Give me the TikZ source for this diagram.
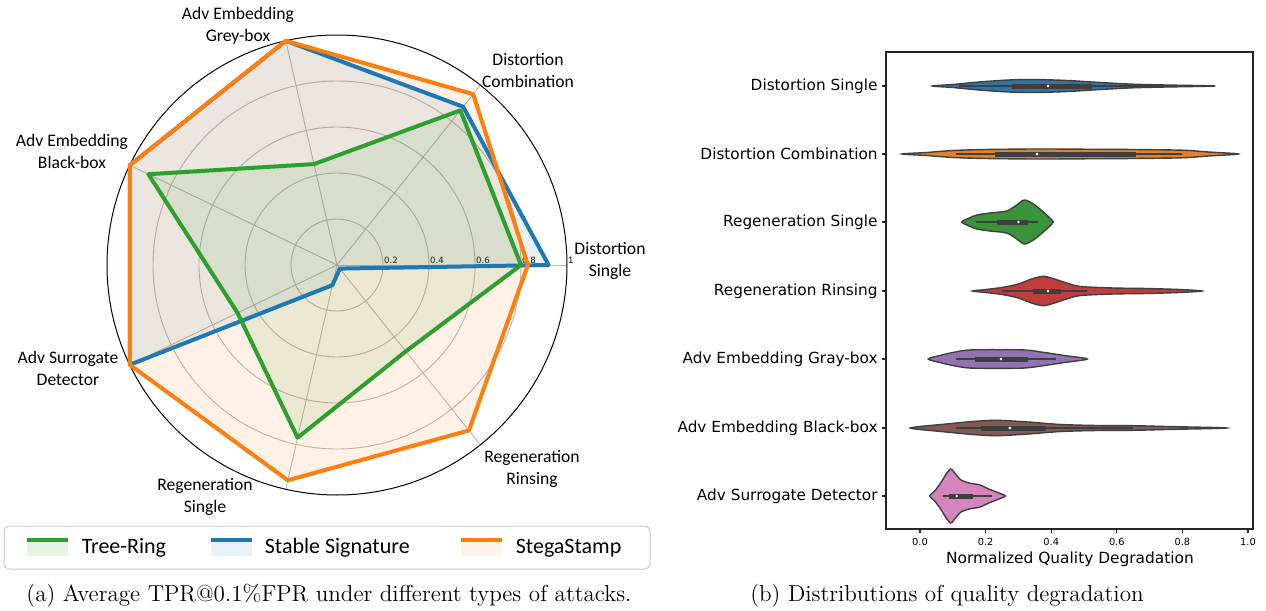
\documentclass[tikz,border=0pt]{standalone}
\usepackage{fontspec}
\usepackage{tikz}
\usetikzlibrary{positioning}

\newfontfamily\carlito{Carlito}
\newfontfamily\dejavu{DejaVu Sans}

\definecolor{trgreen}{HTML}{2CA02C}
\definecolor{ssblue}{HTML}{1F77B4}
\definecolor{sgorange}{HTML}{FF7F0E}
\definecolor{vblue}{HTML}{3274A1}
\definecolor{vorange}{HTML}{E1812C}
\definecolor{vgreen}{HTML}{3A923A}
\definecolor{vred}{HTML}{C03D3E}
\definecolor{vpurple}{HTML}{9372B2}
\definecolor{vbrown}{HTML}{845B53}
\definecolor{vpink}{HTML}{D684BD}
\definecolor{vedge}{HTML}{3F3F3F}

\begin{document}
\begin{tikzpicture}[x=0.5pt, y=-0.5pt,
	gridline/.style={draw=black!28, line width=0.45pt},
	series/.style={line width=2pt, line join=round},
	axlabel/.style={font=\carlito\fontsize{8.8}{11}\selectfont, align=center, inner sep=0pt},
	rtick/.style={font=\dejavu\fontsize{4.3}{5}\selectfont, anchor=south west, inner sep=0.4pt},
	legkey/.style={minimum width=20.5pt, minimum height=8pt, inner sep=0pt},
	legtext/.style={font=\carlito\fontsize{11}{13}\selectfont, inner sep=0pt},
	caption/.style={font=\fontsize{11.55}{13}\selectfont, inner sep=0pt},
	catlabel/.style={font=\dejavu\fontsize{7.65}{9}\selectfont, anchor=east, inner sep=0pt},
	xtick/.style={font=\dejavu\fontsize{4.9}{6}\selectfont, inner sep=0pt},
	frame/.style={draw=black!85, line width=0.55pt},
	violin/.style={draw=vedge, line width=0.7pt},
	whisk/.style={draw=vedge, line width=0.6pt},
	qbox/.style={draw=vedge, line width=2.5pt}]

	\useasboundingbox (0,0) rectangle (1266,611);
	\fill[white] (0,0) rectangle (1266,611);

	% radar chart, unit radius = 230px
	\begin{scope}[shift={(337,265)}, x=115pt, y=115pt]
		\foreach \r in {0.2,0.4,0.6,0.8}
			\draw[gridline] (0,0) circle (\r);
		\foreach \a in {0,...,6}
			\draw[gridline] (0,0) -- ({\a*360/7}:1);
		\draw[black, line width=0.5pt] (0,0) circle (1);

		\node[rtick] (r2) at (0.2,0) {0.2};
		\node[rtick] (r4) at (0.4,0) {0.4};
		\node[rtick] (r6) at (0.6,0) {0.6};
		\node[rtick] (r8) at (0.8,0) {0.8};
		\node[rtick] (r10) at (1,0) {1};

		\fill[ssblue, opacity=0.1] (0:0.92) -- (51.43:0.88) -- (102.86:1) -- (154.29:1) -- (205.71:1) -- (257.14:0.09) -- (308.57:0.02) -- cycle;
		\fill[trgreen, opacity=0.1] (0:0.8) -- (51.43:0.86) -- (102.86:0.45) -- (154.29:0.91) -- (205.71:0.48) -- (257.14:0.77) -- (308.57:0.48) -- cycle;
		\fill[sgorange, opacity=0.1] (0:0.83) -- (51.43:0.95) -- (102.86:1) -- (154.29:1) -- (205.71:1) -- (257.14:0.96) -- (308.57:0.92) -- cycle;

		\draw[series, ssblue] (0:0.92) -- (51.43:0.88) -- (102.86:1) -- (154.29:1) -- (205.71:1) -- (257.14:0.09) -- (308.57:0.02) -- cycle;
		\draw[series, trgreen] (0:0.8) -- (51.43:0.86) -- (102.86:0.45) -- (154.29:0.91) -- (205.71:0.48) -- (257.14:0.77) -- (308.57:0.48) -- cycle;
		\draw[series, sgorange] (0:0.83) -- (51.43:0.95) -- (102.86:1) -- (154.29:1) -- (205.71:1) -- (257.14:0.96) -- (308.57:0.92) -- cycle;
	\end{scope}

	\node[axlabel] (dsingle) at (610,261) {Distortion\\Single};
	\node[axlabel] (dcomb) at (528,70) {Distortion\\Combination};
	\node[axlabel] (greybox) at (238,26) {Adv Embedding\\Grey-box};
	\node[axlabel] (blackbox) at (72,151) {Adv Embedding\\Black-box};
	\node[axlabel] (surrogate) at (68,368) {Adv Surrogate\\Detector};
	\node[axlabel] (rsingle) at (205,497) {Regeneration\\Single};
	\node[axlabel] (rrinse) at (532,469) {Regeneration\\Rinsing};

	% legend
	\draw[draw=black!20, fill=white, line width=0.5pt, rounded corners=2.5pt] (4,526) rectangle (650,569);
	\node[legkey, fill=trgreen!12] (key1) at (47.5,548) {};
	\node[legkey, fill=ssblue!10] (key2) at (231.5,548) {};
	\node[legkey, fill=sgorange!10] (key3) at (481.5,548) {};
	\draw[trgreen, line width=2pt] (key1.north west) -- (key1.north east);
	\draw[ssblue, line width=2pt] (key2.north west) -- (key2.north east);
	\draw[sgorange, line width=2pt] (key3.north west) -- (key3.north east);
	\node[legtext, right=6.5pt of key1] (tr) {Tree-Ring};
	\node[legtext, right=6pt of key2] (ss) {Stable Signature};
	\node[legtext, right=6.5pt of key3] (sg) {StegaStamp};

	\node[caption] (capa) at (329,596) {(a) Average TPR@0.1\%FPR under different types of attacks.};

	% violin plot
	\draw[frame] (886,52) rectangle (1253,529);
	\foreach \y in {86,154,222,291,359,428,496}
		\draw[frame] (886,\y) -- (882,\y);
	\node[catlabel] (c1) at (878,86) {Distortion Single};
	\node[catlabel] (c2) at (878,154) {Distortion Combination};
	\node[catlabel] (c3) at (878,222) {Regeneration Single};
	\node[catlabel] (c4) at (878,291) {Regeneration Rinsing};
	\node[catlabel] (c5) at (878,359) {Adv Embedding Gray-box};
	\node[catlabel] (c6) at (878,428) {Adv Embedding Black-box};
	\node[catlabel] (c7) at (878,496) {Adv Surrogate Detector};

	\begin{scope}[shift={(920,0)}, x=164pt]
		\foreach \v [count=\i] in {0.0,0.2,0.4,0.6,0.8,1.0} {
			\draw[frame] (\v,529) -- (\v,533);
			\node[xtick] (xt\i) at (\v,542) {\v};
		}

		\begin{scope}[shift={(0,86)}]
			\filldraw[violin, fill=vblue] plot[smooth cycle] coordinates {(0.037,0) (0.10,-1.5) (0.18,-4) (0.27,-6) (0.35,-6.5) (0.45,-5.5) (0.55,-3.5) (0.65,-1.8) (0.75,-1) (0.90,0) (0.75,1) (0.65,1.8) (0.55,3.5) (0.45,5.5) (0.35,6.5) (0.27,6) (0.18,4) (0.10,1.5)};
			\draw[whisk] (0.12,0) -- (0.80,0);
			\draw[qbox] (0.28,0) -- (0.524,0);
			\fill[white] (0.39,0) circle (0.7pt);
		\end{scope}

		\begin{scope}[shift={(0,154)}]
			\filldraw[violin, fill=vorange] plot[smooth cycle] coordinates {(-0.055,0) (0.02,-1.5) (0.10,-3.5) (0.20,-4.5) (0.35,-5) (0.50,-4.8) (0.65,-4.5) (0.80,-3.8) (0.88,-2) (0.97,0) (0.88,2) (0.80,3.8) (0.65,4.5) (0.50,4.8) (0.35,5) (0.20,4.5) (0.10,3.5) (0.02,1.5)};
			\draw[whisk] (0.11,0) -- (0.80,0);
			\draw[qbox] (0.23,0) -- (0.66,0);
			\fill[white] (0.357,0) circle (0.7pt);
		\end{scope}

		\begin{scope}[shift={(0,222)}]
			\filldraw[violin, fill=vgreen] plot[smooth cycle] coordinates {(0.127,0) (0.15,-4) (0.173,-7) (0.213,-9) (0.264,-11) (0.295,-17) (0.318,-22) (0.346,-18) (0.376,-10) (0.396,-4) (0.406,0) (0.396,4) (0.376,10) (0.346,18) (0.318,22) (0.295,17) (0.264,11) (0.213,9) (0.173,7) (0.15,4)};
			\draw[whisk] (0.17,0) -- (0.36,0);
			\draw[qbox] (0.234,0) -- (0.33,0);
			\fill[white] (0.30,0) circle (0.7pt);
		\end{scope}

		\begin{scope}[shift={(0,291)}]
			\filldraw[violin, fill=vred] plot[smooth cycle] coordinates {(0.16,0) (0.20,-1.5) (0.25,-3.5) (0.30,-7) (0.34,-12) (0.376,-14.7) (0.41,-12) (0.447,-8) (0.49,-4.5) (0.59,-3) (0.69,-2.5) (0.79,-1.5) (0.86,0) (0.79,1.5) (0.69,2.5) (0.59,3) (0.49,4.5) (0.447,8) (0.41,12) (0.376,14.7) (0.34,12) (0.30,7) (0.25,3.5) (0.20,1.5)};
			\draw[whisk] (0.25,0) -- (0.51,0);
			\draw[qbox] (0.345,0) -- (0.43,0);
			\fill[white] (0.39,0) circle (0.7pt);
		\end{scope}

		\begin{scope}[shift={(0,359)}]
			\filldraw[violin, fill=vpurple] plot[smooth cycle] coordinates {(0.025,0) (0.06,-3.5) (0.10,-6.5) (0.15,-9) (0.24,-9.3) (0.32,-9) (0.38,-6.5) (0.44,-3.5) (0.51,0) (0.44,3.5) (0.38,6.5) (0.32,9) (0.24,9.3) (0.15,9) (0.10,6.5) (0.06,3.5)};
			\draw[whisk] (0.11,0) -- (0.415,0);
			\draw[qbox] (0.168,0) -- (0.33,0);
			\fill[white] (0.247,0) circle (0.7pt);
		\end{scope}

		\begin{scope}[shift={(0,428)}]
			\filldraw[violin, fill=vbrown] plot[smooth cycle] coordinates {(-0.03,0) (0.0,-1.5) (0.08,-4) (0.16,-6.5) (0.234,-7.7) (0.33,-6) (0.43,-3.5) (0.54,-2.5) (0.65,-2.3) (0.75,-1.5) (0.935,0) (0.75,1.5) (0.65,2.3) (0.54,2.5) (0.43,3.5) (0.33,6) (0.234,7.7) (0.16,6.5) (0.08,4) (0.0,1.5)};
			\draw[whisk] (0.11,0) -- (0.65,0);
			\draw[qbox] (0.186,0) -- (0.384,0);
			\fill[white] (0.274,0) circle (0.7pt);
		\end{scope}

		\begin{scope}[shift={(0,496)}]
			\filldraw[violin, fill=vpink] plot[smooth cycle] coordinates {(0.03,0) (0.045,-5) (0.065,-14) (0.08,-22) (0.094,-27) (0.108,-22) (0.125,-16) (0.15,-13) (0.183,-11) (0.213,-6.5) (0.245,-2.5) (0.26,0) (0.245,2.5) (0.213,6.5) (0.183,11) (0.15,13) (0.125,16) (0.108,22) (0.094,27) (0.08,22) (0.065,14) (0.045,5)};
			\draw[whisk] (0.07,0) -- (0.22,0);
			\draw[qbox] (0.088,0) -- (0.162,0);
			\fill[white] (0.112,0) circle (0.7pt);
		\end{scope}
	\end{scope}

	\node[font=\dejavu\fontsize{7.7}{9}\selectfont, inner sep=0pt] (xlabel) at (1070,559) {Normalized Quality Degradation};
	\node[caption] (capb) at (947,596) {(b) Distributions of quality degradation};
\end{tikzpicture}
\end{document}
